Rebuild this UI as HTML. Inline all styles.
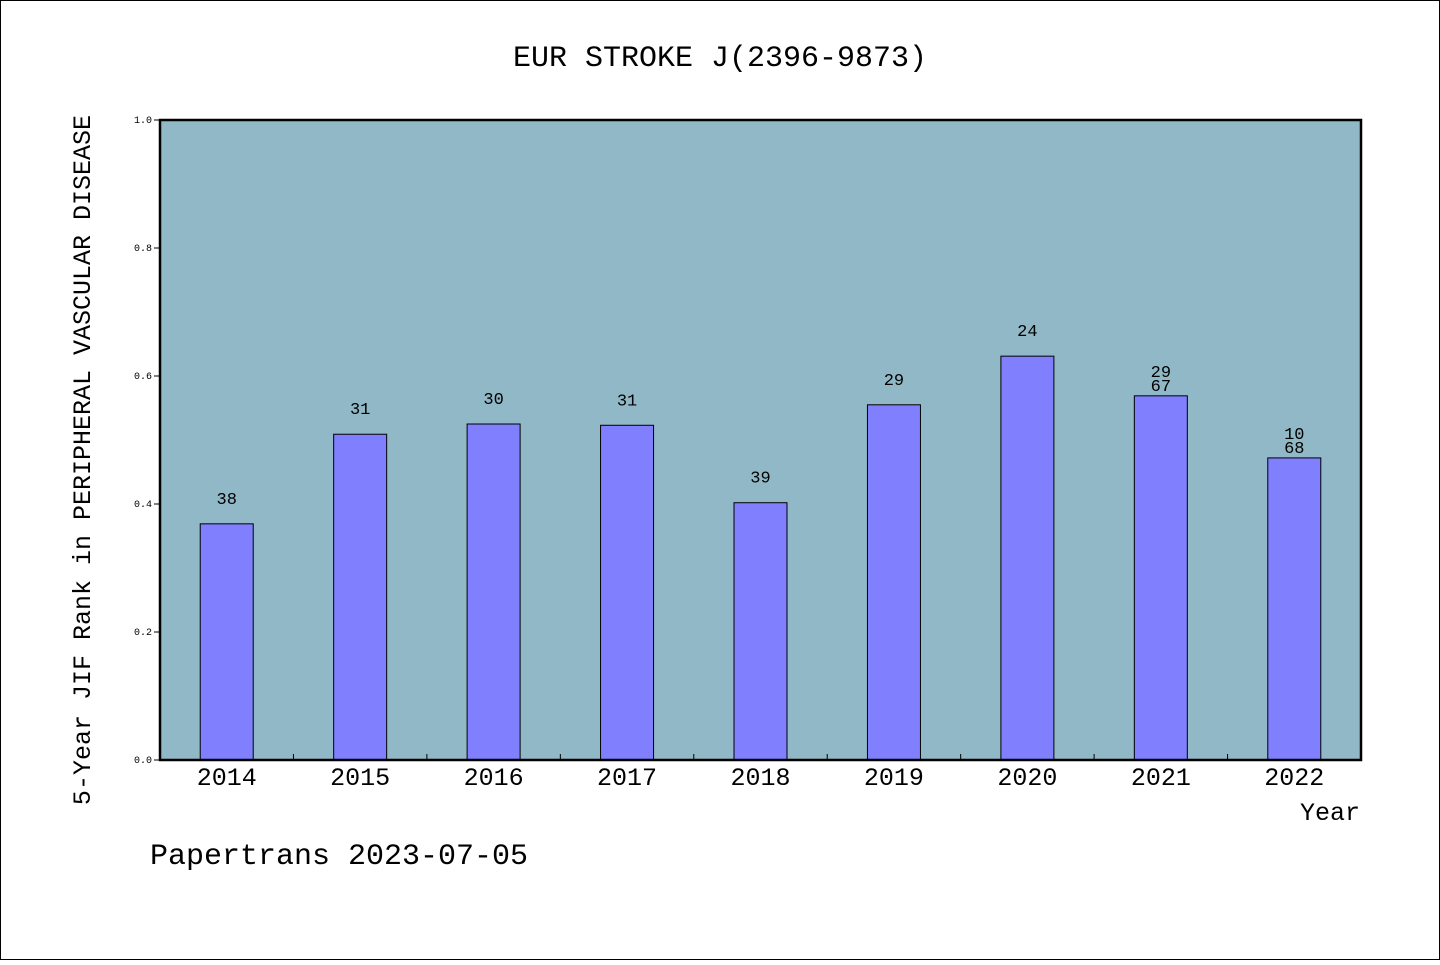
<!DOCTYPE html>
<html><head><meta charset="utf-8"><style>
body{margin:0;background:#fff}
svg text{font-family:"Liberation Mono","WenQuanYi Zen Hei",monospace;fill:#000}
</style></head><body>
<svg width="1440" height="960" xmlns="http://www.w3.org/2000/svg" id="chart">
<rect x="0.5" y="0.5" width="1439" height="959" fill="#fff" stroke="#000"/>
<text x="720" y="66" font-size="30" text-anchor="middle">EUR STROKE J(2396-9873)</text>
<rect x="160" y="120" width="1201" height="640" fill="#90b8c6"/>
<g id="bars"></g>
<rect x="160" y="120" width="1201" height="640" fill="none" stroke="#000" stroke-width="2.5"/>
<text transform="translate(90,460) rotate(-90)" font-size="25" text-anchor="middle">5-Year JIF Rank in PERIPHERAL VASCULAR DISEASE</text>
<text x="1360" y="820" font-size="25" text-anchor="end">Year</text>
<text x="150" y="864" font-size="30">Papertrans 2023-07-05</text>
</svg>
<script>
const years=["2014","2015","2016","2017","2018","2019","2020","2021","2022"];
const values=[0.369,0.509,0.525,0.523,0.402,0.555,0.631,0.569,0.472];
const ranks=["38","31","30","31","39","29","24","29","10"];
const totals=["","","","","","","","67","68"];
const yTicks=[0,0.2,0.4,0.6,0.8,1.0];
const ns="http://www.w3.org/2000/svg";
const X0=160,X1=1361,Y0=760,Y1=120;
const step=(X1-X0)/years.length;
const xc=i=>X0+step*(i+0.5);
const y=v=>Y0-(Y0-Y1)*v;
const g=document.getElementById('bars');
function mk(t,a){const e=document.createElementNS(ns,t);for(const k in a)e.setAttribute(k,a[k]);g.appendChild(e);return e;}
yTicks.forEach(v=>{
 const l=mk('line',{x1:154,x2:160,y1:y(v),y2:y(v),stroke:'#000'});
 
 
 const t=mk('text',{x:152,y:y(v)+3,'font-size':10,'text-anchor':'end'});t.textContent=v.toFixed(1);
 
 
});
for(let i=1;i<years.length;i++){
 const l=mk('line',{x1:X0+step*i,x2:X0+step*i,y1:754,y2:760,stroke:'#000'});
 
 
}
const bw=53;
years.forEach((yr,i)=>{
 const r=mk('rect',{x:xc(i)-bw/2,y:y(values[i]),width:bw,height:Y0-y(values[i]),fill:'#8080ff',stroke:'#000','stroke-width':1});
 
 
 const xl=mk('text',{x:xc(i),y:785,'font-size':25,'text-anchor':'middle'});xl.textContent=yr;
 
 
 if(totals[i]){
  const a=mk('text',{x:xc(i),y:y(values[i])-19,'font-size':17,'text-anchor':'middle'});a.textContent=ranks[i];
  
  
  const b=mk('text',{x:xc(i),y:y(values[i])-5,'font-size':17,'text-anchor':'middle'});b.textContent=totals[i];
  
  
 }else{
  const a=mk('text',{x:xc(i),y:y(values[i])-20,'font-size':17,'text-anchor':'middle'});a.textContent=ranks[i];
  
  
 }
});
</script>
</body></html>
